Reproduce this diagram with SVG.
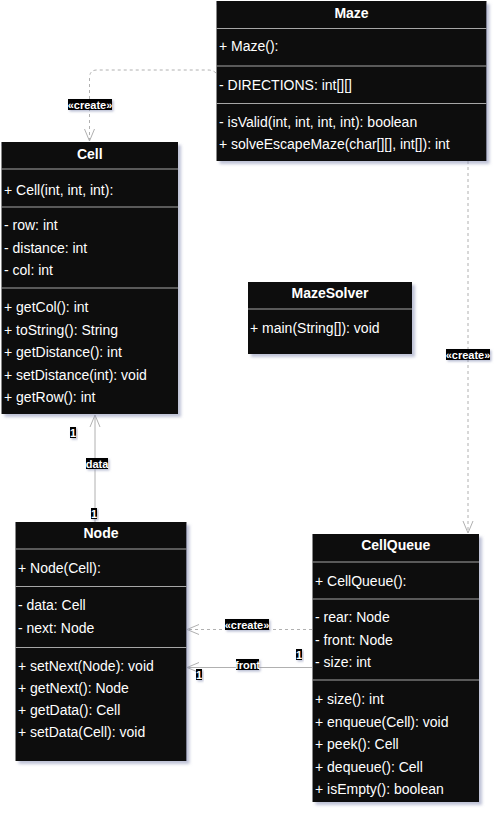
<svg xmlns="http://www.w3.org/2000/svg" width="501" height="813" viewBox="0 0 501 813">
<defs>
<filter id="sh" x="-10%" y="-10%" width="130%" height="130%">
<feDropShadow dx="3" dy="3" stdDeviation="1.5" flood-color="#8890b5" flood-opacity="0.55"/>
</filter>
<filter id="lsh" x="-20%" y="-20%" width="150%" height="160%">
<feDropShadow dx="1.5" dy="1.5" stdDeviation="1" flood-color="#8890b5" flood-opacity="0.6"/>
</filter>
<marker id="open" markerWidth="14" markerHeight="12" refX="13" refY="6" orient="auto" markerUnits="userSpaceOnUse">
<path d="M1,1 L13,6 L1,11" fill="none" stroke="#b0b0b0" stroke-width="1"/>
</marker>
</defs>
<style>
.box{fill:#0d0d0d;filter:url(#sh)}
.div{stroke:#a6a6a6;stroke-width:1}
.t{font-family:"Liberation Sans",Arial,sans-serif;font-size:14px;fill:#ffffff}
.h{font-family:"Liberation Sans",Arial,sans-serif;font-size:14px;font-weight:bold;fill:#ffffff;text-anchor:middle}
.ln{fill:none;stroke:#b0b0b0;stroke-width:1}
.dash{stroke-dasharray:3,3}
.lb{fill:#000000;filter:url(#lsh)}
.lt{font-family:"Liberation Sans",Arial,sans-serif;font-size:11px;font-weight:bold;fill:#ffffff;text-anchor:middle}
</style>
<rect width="501" height="813" fill="#ffffff"/>

<g id="connectors">
<path class="ln dash" d="M216,73 Q213,70 208,70 L97,70 Q89.5,70 89.5,78 L89.5,141" marker-end="url(#open)"/>
<path class="ln dash" d="M468,161 L468,533" marker-end="url(#open)"/>
<path class="ln" d="M95,522 L95,415" marker-end="url(#open)"/>
<path class="ln dash" d="M312,629.5 L187,629.5" marker-end="url(#open)"/>
<path class="ln" d="M312,667.5 L187,667.5" marker-end="url(#open)"/>

<rect class="lb" x="68" y="99" width="44" height="11"/>
<text class="lt" x="90" y="108.5">«create»</text>
<rect class="lb" x="446" y="349" width="44" height="11"/>
<text class="lt" x="468" y="358.5">«create»</text>
<rect class="lb" x="70" y="427" width="6" height="11"/>
<text class="lt" x="73" y="436.5">1</text>
<rect class="lb" x="86" y="458" width="22" height="11"/>
<text class="lt" x="97" y="467.5">data</text>
<rect class="lb" x="91" y="508" width="6" height="11"/>
<text class="lt" x="94" y="517.5">1</text>
<rect class="lb" x="225" y="619" width="44" height="11"/>
<text class="lt" x="247" y="628.5">«create»</text>
<rect class="lb" x="236" y="659" width="23" height="11"/>
<text class="lt" x="247.5" y="668.5">front</text>
<rect class="lb" x="296" y="649" width="6" height="11"/>
<text class="lt" x="299" y="658.5">1</text>
<rect class="lb" x="196" y="669" width="6" height="11"/>
<text class="lt" x="199" y="678.5">1</text>
</g>

<g id="Maze">
<rect class="box" x="216.5" y="1" width="270" height="160"/>
<text class="h" x="351.5" y="18">Maze</text>
<line class="div" x1="216.5" y1="28.5" x2="486.5" y2="28.5"/>
<text class="t" x="219" y="51">+ Maze():</text>
<line class="div" x1="216.5" y1="66" x2="486.5" y2="66"/>
<text class="t" x="219" y="90">- DIRECTIONS: int[][]</text>
<line class="div" x1="216.5" y1="103.5" x2="486.5" y2="103.5"/>
<text class="t" x="219" y="127">- isValid(int, int, int, int): boolean</text>
<text class="t" x="219" y="149">+ solveEscapeMaze(char[][], int[]): int</text>
</g>

<g id="Cell">
<rect class="box" x="1.5" y="142" width="176.5" height="272"/>
<text class="h" x="89.75" y="159">Cell</text>
<line class="div" x1="1.5" y1="169" x2="178" y2="169"/>
<text class="t" x="4" y="195">+ Cell(int, int, int):</text>
<line class="div" x1="1.5" y1="207" x2="178" y2="207"/>
<text class="t" x="4" y="230">- row: int</text>
<text class="t" x="4" y="252.5">- distance: int</text>
<text class="t" x="4" y="275">- col: int</text>
<line class="div" x1="1.5" y1="288" x2="178" y2="288"/>
<text class="t" x="4" y="312">+ getCol(): int</text>
<text class="t" x="4" y="334.5">+ toString(): String</text>
<text class="t" x="4" y="357">+ getDistance(): int</text>
<text class="t" x="4" y="379.5">+ setDistance(int): void</text>
<text class="t" x="4" y="402">+ getRow(): int</text>
</g>

<g id="MazeSolver">
<rect class="box" x="248" y="282" width="164" height="72"/>
<text class="h" x="330" y="298">MazeSolver</text>
<line class="div" x1="248" y1="309" x2="412" y2="309"/>
<text class="t" x="250" y="333">+ main(String[]): void</text>
</g>

<g id="Node">
<rect class="box" x="15.5" y="522" width="171" height="239"/>
<text class="h" x="101" y="538">Node</text>
<line class="div" x1="15.5" y1="549" x2="186.5" y2="549"/>
<text class="t" x="18" y="573">+ Node(Cell):</text>
<line class="div" x1="15.5" y1="586.5" x2="186.5" y2="586.5"/>
<text class="t" x="18" y="610">- data: Cell</text>
<text class="t" x="18" y="633">- next: Node</text>
<line class="div" x1="15.5" y1="647.5" x2="186.5" y2="647.5"/>
<text class="t" x="18" y="671">+ setNext(Node): void</text>
<text class="t" x="18" y="693">+ getNext(): Node</text>
<text class="t" x="18" y="715">+ getData(): Cell</text>
<text class="t" x="18" y="737">+ setData(Cell): void</text>
</g>

<g id="CellQueue">
<rect class="box" x="312.5" y="534" width="166.5" height="268"/>
<text class="h" x="395.75" y="550">CellQueue</text>
<line class="div" x1="312.5" y1="562" x2="479" y2="562"/>
<text class="t" x="315" y="586">+ CellQueue():</text>
<line class="div" x1="312.5" y1="599" x2="479" y2="599"/>
<text class="t" x="315" y="622">- rear: Node</text>
<text class="t" x="315" y="645">- front: Node</text>
<text class="t" x="315" y="667">- size: int</text>
<line class="div" x1="312.5" y1="680" x2="479" y2="680"/>
<text class="t" x="315" y="704">+ size(): int</text>
<text class="t" x="315" y="727">+ enqueue(Cell): void</text>
<text class="t" x="315" y="749">+ peek(): Cell</text>
<text class="t" x="315" y="772">+ dequeue(): Cell</text>
<text class="t" x="315" y="794">+ isEmpty(): boolean</text>
</g>
</svg>
